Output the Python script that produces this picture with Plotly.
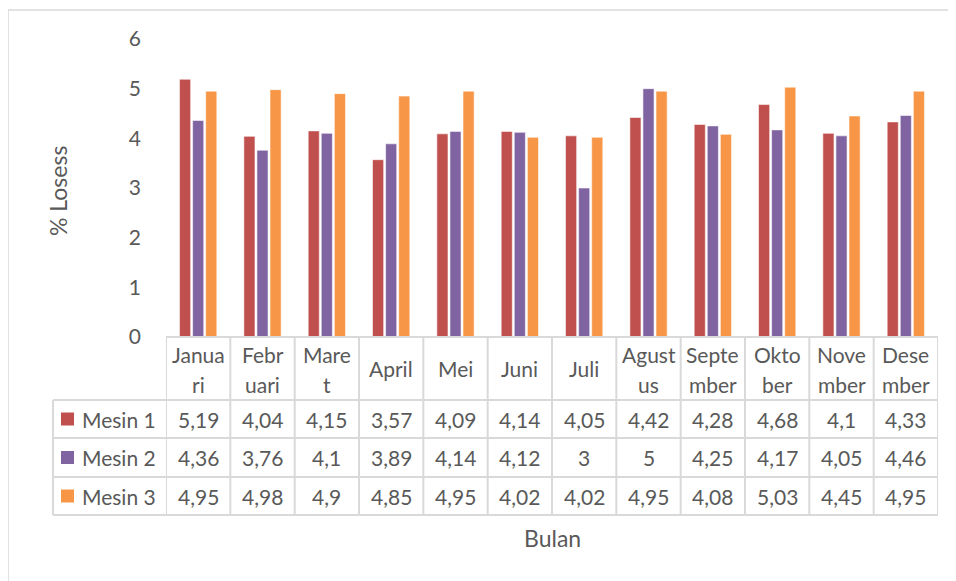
import plotly.graph_objects as go

months = ["Januari", "Februari", "Maret", "April", "Mei", "Juni", "Juli",
          "Agustus", "September", "Oktober", "November", "Desember"]
month_labels = [["Janua", "ri"], ["Febr", "uari"], ["Mare", "t"], ["April"], ["Mei"],
                ["Juni"], ["Juli"], ["Agust", "us"], ["Septe", "mber"], ["Okto", "ber"],
                ["Nove", "mber"], ["Dese", "mber"]]
series_names = ["Mesin 1", "Mesin 2", "Mesin 3"]
mesin1 = [5.19, 4.04, 4.15, 3.57, 4.09, 4.14, 4.05, 4.42, 4.28, 4.68, 4.10, 4.33]
mesin2 = [4.36, 3.76, 4.10, 3.89, 4.14, 4.12, 3.00, 5.00, 4.25, 4.17, 4.05, 4.46]
mesin3 = [4.95, 4.98, 4.90, 4.85, 4.95, 4.02, 4.02, 4.95, 4.08, 5.03, 4.45, 4.95]
series_values = [mesin1, mesin2, mesin3]
colors = ["#C0504D", "#8064A2", "#F79646"]
y_ticks = [0, 1, 2, 3, 4, 5, 6]

W, H = 956, 581
OFF = 8  # page body margin
def px(x): return (x - OFF) / W
def py(y): return 1 - (y - OFF) / H

FONT = "Lato"
TXT = "#595959"
GRID = "#D9D9D9"
FS = 21
FT = 23

fig = go.Figure()
for name, vals, c in zip(series_names, series_values, colors):
    fig.add_trace(go.Bar(x=months, y=vals, name=name, marker_color=c,
                         marker_line=dict(color="rgba(255,255,255,0.55)", width=1)))

X0, X1 = 166, 938
Y0, Y6 = 337, 39
fig.update_layout(
    width=W, height=H, margin=dict(l=0, r=0, t=0, b=0, autoexpand=False),
    paper_bgcolor="white", plot_bgcolor="white",
    barmode="group", bargap=0.39, bargroupgap=0.15, showlegend=False,
    font=dict(family=FONT, color=TXT, size=FS),
    xaxis=dict(domain=[px(X0), px(X1)], range=[-0.5, 11.5], showticklabels=False,
               showgrid=False, zeroline=False, showline=False, ticks="", automargin=False),
    yaxis=dict(domain=[py(Y0), py(Y6)], range=[0, 6], tickvals=y_ticks,
               showgrid=False, zeroline=False, showline=False, ticks="", automargin=False,
               ticklabelstandoff=24, tickfont=dict(size=FS, color=TXT)),
)

shapes = []
shapes.append(dict(type="rect", xref="paper", yref="paper", x0=px(8), x1=1.05,
                   y0=py(10), y1=-0.05, line=dict(color=GRID, width=1.5)))
ROWS = [400, 438, 477, 515]
LEG_L = 53
line = dict(color=GRID, width=2)
shapes.append(dict(type="line", xref="paper", yref="paper", x0=px(X0), x1=px(X1),
                   y0=py(Y0), y1=py(Y0), line=line))
for yy in ROWS:
    shapes.append(dict(type="line", xref="paper", yref="paper", x0=px(LEG_L), x1=px(X1),
                       y0=py(yy), y1=py(yy), line=line))
shapes.append(dict(type="line", xref="paper", yref="paper", x0=px(LEG_L), x1=px(LEG_L),
                   y0=py(ROWS[0]), y1=py(ROWS[-1]), line=line))
for i in range(len(months) + 1):
    shapes.append(dict(type="line", xref="x", yref="paper", x0=i - 0.5, x1=i - 0.5,
                       y0=py(Y0), y1=py(ROWS[-1]), line=line))

annotations = []
for i, lab in enumerate(month_labels):
    if len(lab) == 1:
        annotations.append(dict(x=i, y=py(368), xref="x", yref="paper", text=lab[0],
                                showarrow=False, xanchor="center", yanchor="middle"))
    else:
        for j, part in enumerate(lab):
            annotations.append(dict(x=i, y=py(354 + 30 * j), xref="x", yref="paper", text=part,
                                    showarrow=False, xanchor="center", yanchor="middle"))

def fmt(v):
    return ("%g" % v).replace(".", ",")

for r, (name, vals, c) in enumerate(zip(series_names, series_values, colors)):
    yc = (ROWS[r] + ROWS[r + 1]) / 2
    shapes.append(dict(type="rect", xref="paper", yref="paper", x0=px(61), x1=px(74),
                       y0=py(yc - 6.5), y1=py(yc + 6.5), fillcolor=c, line=dict(width=0)))
    annotations.append(dict(x=px(80), y=py(yc), xref="paper", yref="paper", text=name,
                            showarrow=False, xanchor="left", yanchor="middle"))
    for i, v in enumerate(vals):
        annotations.append(dict(x=i, y=py(yc), xref="x", yref="paper", text=fmt(v),
                                showarrow=False, xanchor="center", yanchor="middle"))

annotations.append(dict(x=px(58), y=py(191), xref="paper", yref="paper", text="% Losess",
                        textangle=-90, showarrow=False, xanchor="center", yanchor="middle",
                        font=dict(size=FT)))
annotations.append(dict(x=px(552), y=py(538), xref="paper", yref="paper", text="Bulan",
                        showarrow=False, xanchor="center", yanchor="middle",
                        font=dict(size=FT)))

fig.update_layout(shapes=shapes, annotations=annotations)
fig.write_html("out.html")
